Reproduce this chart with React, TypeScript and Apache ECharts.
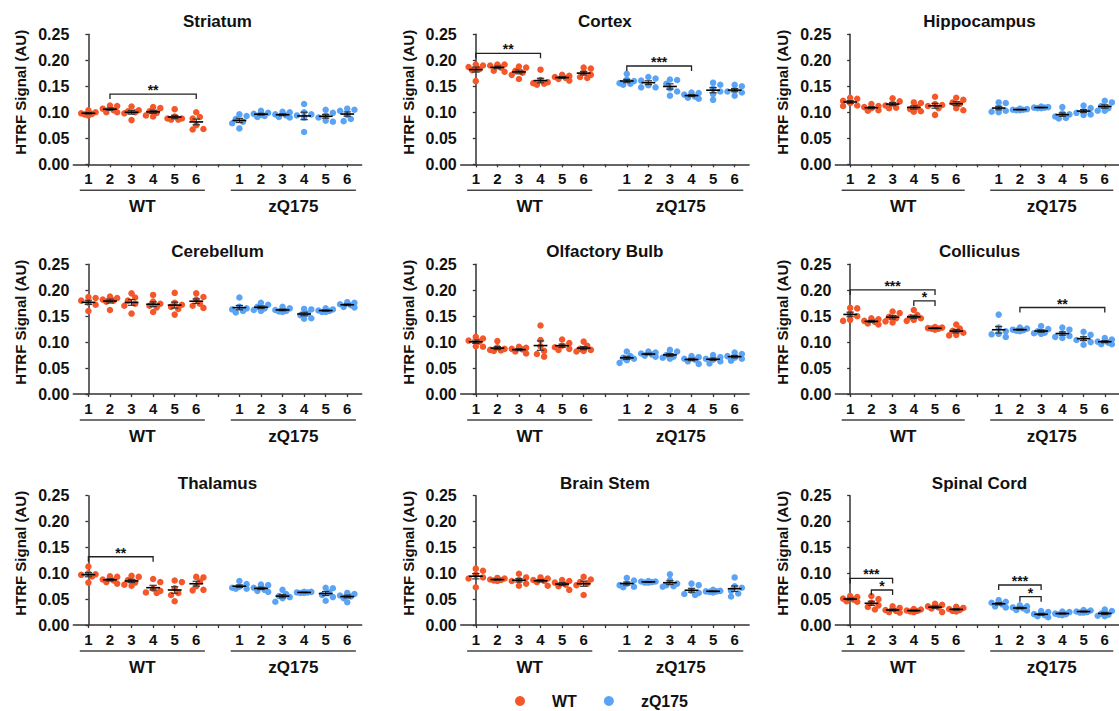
import React, { useEffect, useRef } from "react";
import * as echarts from "echarts";

const FONT = '"Liberation Sans", Arial, Helvetica, sans-serif';

const panelTitles = [
  "Striatum", "Cortex", "Hippocampus",
  "Cerebellum", "Olfactory Bulb", "Colliculus",
  "Thalamus", "Brain Stem", "Spinal Cord",
];
const groupLabels = ["WT", "zQ175"];
const doseLabels = ["1", "2", "3", "4", "5", "6"];
const yMin = 0;
const yMax = 0.25;
const yStep = 0.05;
const groupColors = ["#F4572A", "#5BA4F5"];
const yAxisName = "HTRF Signal (AU)";

// ---- dot values: each inner array = one dose group (6 animals) ----
const striatumWT = [
  [0.104, 0.100, 0.098, 0.096, 0.094, 0.097],
  [0.113, 0.112, 0.107, 0.104, 0.100, 0.100],
  [0.111, 0.104, 0.102, 0.100, 0.098, 0.085],
  [0.110, 0.108, 0.102, 0.099, 0.094, 0.092],
  [0.106, 0.092, 0.088, 0.086, 0.086, 0.088],
  [0.100, 0.091, 0.088, 0.075, 0.067, 0.068],
];
const striatumZQ = [
  [0.096, 0.093, 0.087, 0.082, 0.079, 0.069],
  [0.103, 0.099, 0.097, 0.095, 0.093, 0.091],
  [0.101, 0.100, 0.096, 0.094, 0.091, 0.090],
  [0.116, 0.100, 0.096, 0.094, 0.090, 0.062],
  [0.105, 0.099, 0.094, 0.090, 0.084, 0.082],
  [0.107, 0.105, 0.103, 0.095, 0.087, 0.083],
];
const cortexWT = [
  [0.192, 0.190, 0.187, 0.183, 0.181, 0.160],
  [0.192, 0.192, 0.190, 0.186, 0.180, 0.178],
  [0.188, 0.186, 0.180, 0.176, 0.172, 0.164],
  [0.182, 0.162, 0.158, 0.156, 0.155, 0.153],
  [0.172, 0.170, 0.168, 0.166, 0.164, 0.161],
  [0.186, 0.184, 0.176, 0.172, 0.168, 0.166],
];
const cortexZQ = [
  [0.174, 0.163, 0.160, 0.156, 0.155, 0.153],
  [0.168, 0.165, 0.161, 0.152, 0.148, 0.148],
  [0.163, 0.162, 0.155, 0.146, 0.140, 0.132],
  [0.138, 0.137, 0.134, 0.130, 0.128, 0.126],
  [0.157, 0.153, 0.146, 0.140, 0.135, 0.124],
  [0.153, 0.150, 0.143, 0.140, 0.138, 0.132],
];
const hippocampusWT = [
  [0.128, 0.126, 0.122, 0.118, 0.113, 0.112],
  [0.116, 0.112, 0.110, 0.108, 0.104, 0.103],
  [0.127, 0.121, 0.117, 0.113, 0.109, 0.108],
  [0.119, 0.118, 0.110, 0.106, 0.102, 0.101],
  [0.130, 0.116, 0.114, 0.112, 0.108, 0.095],
  [0.128, 0.124, 0.119, 0.116, 0.108, 0.104],
];
const hippocampusZQ = [
  [0.119, 0.118, 0.108, 0.103, 0.101, 0.100],
  [0.107, 0.106, 0.105, 0.105, 0.104, 0.104],
  [0.111, 0.110, 0.109, 0.109, 0.108, 0.108],
  [0.110, 0.098, 0.096, 0.092, 0.089, 0.088],
  [0.113, 0.108, 0.103, 0.099, 0.096, 0.095],
  [0.122, 0.119, 0.112, 0.108, 0.103, 0.103],
];
const cerebellumWT = [
  [0.187, 0.185, 0.180, 0.176, 0.172, 0.160],
  [0.188, 0.185, 0.182, 0.180, 0.178, 0.162],
  [0.194, 0.186, 0.180, 0.174, 0.170, 0.155],
  [0.191, 0.178, 0.174, 0.170, 0.167, 0.158],
  [0.195, 0.176, 0.172, 0.168, 0.164, 0.153],
  [0.194, 0.187, 0.182, 0.174, 0.170, 0.166],
];
const cerebellumZQ = [
  [0.186, 0.168, 0.165, 0.163, 0.160, 0.157],
  [0.176, 0.172, 0.168, 0.165, 0.162, 0.160],
  [0.168, 0.165, 0.162, 0.160, 0.159, 0.158],
  [0.164, 0.163, 0.155, 0.152, 0.146, 0.145],
  [0.165, 0.163, 0.161, 0.160, 0.158, 0.158],
  [0.177, 0.176, 0.173, 0.171, 0.168, 0.167],
];
const olfactoryWT = [
  [0.110, 0.107, 0.103, 0.101, 0.092, 0.091],
  [0.102, 0.090, 0.087, 0.085, 0.084, 0.083],
  [0.091, 0.089, 0.087, 0.086, 0.082, 0.078],
  [0.132, 0.104, 0.092, 0.083, 0.077, 0.072],
  [0.105, 0.098, 0.093, 0.090, 0.087, 0.085],
  [0.101, 0.093, 0.087, 0.085, 0.083, 0.082],
];
const olfactoryZQ = [
  [0.082, 0.073, 0.070, 0.068, 0.065, 0.060],
  [0.082, 0.080, 0.078, 0.076, 0.074, 0.072],
  [0.085, 0.082, 0.075, 0.072, 0.070, 0.068],
  [0.073, 0.071, 0.068, 0.066, 0.063, 0.058],
  [0.075, 0.071, 0.068, 0.066, 0.063, 0.059],
  [0.080, 0.077, 0.073, 0.070, 0.068, 0.064],
];
const colliculusWT = [
  [0.166, 0.165, 0.155, 0.150, 0.143, 0.141],
  [0.146, 0.144, 0.141, 0.139, 0.136, 0.134],
  [0.159, 0.156, 0.149, 0.146, 0.140, 0.138],
  [0.162, 0.152, 0.148, 0.146, 0.143, 0.141],
  [0.129, 0.128, 0.127, 0.126, 0.126, 0.124],
  [0.134, 0.126, 0.122, 0.118, 0.114, 0.113],
];
const colliculusZQ = [
  [0.153, 0.128, 0.121, 0.116, 0.115, 0.110],
  [0.128, 0.126, 0.124, 0.123, 0.122, 0.121],
  [0.131, 0.125, 0.121, 0.118, 0.117, 0.116],
  [0.128, 0.124, 0.117, 0.112, 0.110, 0.108],
  [0.120, 0.114, 0.107, 0.104, 0.100, 0.095],
  [0.108, 0.105, 0.101, 0.099, 0.096, 0.096],
];
const thalamusWT = [
  [0.113, 0.100, 0.098, 0.097, 0.094, 0.082],
  [0.094, 0.093, 0.088, 0.086, 0.083, 0.080],
  [0.095, 0.093, 0.087, 0.082, 0.078, 0.076],
  [0.089, 0.083, 0.070, 0.066, 0.063, 0.062],
  [0.086, 0.083, 0.071, 0.062, 0.058, 0.046],
  [0.093, 0.092, 0.084, 0.075, 0.068, 0.067],
];
const thalamusZQ = [
  [0.085, 0.079, 0.074, 0.072, 0.070, 0.070],
  [0.078, 0.077, 0.072, 0.068, 0.066, 0.064],
  [0.068, 0.060, 0.056, 0.054, 0.052, 0.045],
  [0.064, 0.064, 0.063, 0.063, 0.062, 0.062],
  [0.072, 0.071, 0.063, 0.058, 0.054, 0.047],
  [0.062, 0.060, 0.057, 0.055, 0.052, 0.044],
];
const brainStemWT = [
  [0.109, 0.105, 0.097, 0.092, 0.090, 0.073],
  [0.091, 0.090, 0.088, 0.087, 0.086, 0.085],
  [0.099, 0.092, 0.087, 0.085, 0.080, 0.076],
  [0.092, 0.090, 0.087, 0.085, 0.083, 0.076],
  [0.087, 0.085, 0.082, 0.078, 0.075, 0.068],
  [0.093, 0.088, 0.083, 0.080, 0.077, 0.058],
];
const brainStemZQ = [
  [0.091, 0.086, 0.080, 0.077, 0.074, 0.073],
  [0.085, 0.084, 0.084, 0.083, 0.082, 0.082],
  [0.098, 0.087, 0.080, 0.077, 0.075, 0.074],
  [0.080, 0.077, 0.066, 0.062, 0.060, 0.058],
  [0.068, 0.066, 0.065, 0.065, 0.064, 0.063],
  [0.092, 0.075, 0.072, 0.066, 0.061, 0.055],
];
const spinalCordWT = [
  [0.056, 0.054, 0.051, 0.049, 0.046, 0.045],
  [0.056, 0.050, 0.043, 0.038, 0.035, 0.030],
  [0.036, 0.033, 0.029, 0.027, 0.025, 0.024],
  [0.031, 0.030, 0.028, 0.027, 0.026, 0.025],
  [0.041, 0.039, 0.036, 0.034, 0.032, 0.025],
  [0.035, 0.033, 0.031, 0.029, 0.027, 0.026],
];
const spinalCordZQ = [
  [0.048, 0.045, 0.043, 0.040, 0.036, 0.034],
  [0.038, 0.036, 0.034, 0.032, 0.029, 0.028],
  [0.027, 0.025, 0.021, 0.019, 0.017, 0.015],
  [0.026, 0.025, 0.022, 0.021, 0.020, 0.019],
  [0.029, 0.028, 0.026, 0.025, 0.024, 0.024],
  [0.030, 0.027, 0.022, 0.020, 0.018, 0.017],
];

// ---- significance brackets: [group (0 WT, 1 zQ175), fromDose, toDose, yValue, stars] ----
const striatumBrackets = [[0, 2, 6, 0.135, 2]];
const cortexBrackets = [[0, 1, 4, 0.2135, 2], [1, 1, 4, 0.189, 3]];
const hippocampusBrackets: number[][] = [];
const cerebellumBrackets: number[][] = [];
const olfactoryBrackets: number[][] = [];
const colliculusBrackets = [[0, 1, 5, 0.2006, 3], [0, 4, 5, 0.1795, 1], [1, 2, 6, 0.1667, 2]];
const thalamusBrackets = [[0, 1, 4, 0.132, 2]];
const brainStemBrackets: number[][] = [];
const spinalCordBrackets = [[0, 1, 3, 0.09, 3], [0, 2, 3, 0.0677, 1], [1, 1, 3, 0.0773, 3], [1, 2, 3, 0.0548, 1]];

const panelWT = [striatumWT, cortexWT, hippocampusWT, cerebellumWT, olfactoryWT, colliculusWT, thalamusWT, brainStemWT, spinalCordWT];
const panelZQ = [striatumZQ, cortexZQ, hippocampusZQ, cerebellumZQ, olfactoryZQ, colliculusZQ, thalamusZQ, brainStemZQ, spinalCordZQ];
const panelBrackets = [striatumBrackets, cortexBrackets, hippocampusBrackets, cerebellumBrackets, olfactoryBrackets, colliculusBrackets, thalamusBrackets, brainStemBrackets, spinalCordBrackets];

// ---- layout ----
const colLeft = [73.3, 460.7, 835.3];
const rowTop = [34.3, 264.3, 495.7];
const rowHeight = [130, 129.7, 129.3];
const plotWidth = 288.4;
const xMin = -0.7;
const xMax = 12.67;
const groupGap = 7; // WT doses at 0..5, zQ175 doses at 7..12

const xPos = (g: number, d: number) => g * groupGap + d;

function swarmOffsets(vals: number[], pxPerY: number, pxPerX: number): number[] {
  const dMin = 5.2;
  const step = 3.6;
  const cands = [0, 1, -1, 2, -2];
  const order = vals.map((_, i) => i).sort((a, b) => vals[b] - vals[a]);
  const placed: { x: number; y: number }[] = [];
  const out = new Array(vals.length).fill(0);
  for (const i of order) {
    const y = vals[i] * pxPerY;
    let best = 0;
    let bestD = -1;
    for (const k of cands) {
      const x = k * step;
      let md = Infinity;
      for (const p of placed) md = Math.min(md, Math.hypot(p.x - x, p.y - y));
      if (md >= dMin) { best = x; bestD = Infinity; break; }
      if (md > bestD) { bestD = md; best = x; }
    }
    placed.push({ x: best, y });
    out[i] = best / pxPerX;
  }
  return out;
}

function meanSem(v: number[]) {
  const n = v.length;
  const m = v.reduce((a, b) => a + b, 0) / n;
  const sd = Math.sqrt(v.reduce((a, b) => a + (b - m) * (b - m), 0) / (n - 1));
  return [m, sd / Math.sqrt(n)];
}

function buildOption() {
  const grid: any[] = [];
  const xAxis: any[] = [];
  const yAxis: any[] = [];
  const title: any[] = [];
  const series: any[] = [];
  const pxPerX = plotWidth / (xMax - xMin);

  for (let i = 0; i < 9; i++) {
    const r = Math.floor(i / 3);
    const c = i % 3;
    const pxPerY = rowHeight[r] / (yMax - yMin);
    grid.push({ left: colLeft[c], top: rowTop[r], width: plotWidth, height: rowHeight[r] });
    title.push({
      text: panelTitles[i],
      left: colLeft[c] + plotWidth / 2,
      top: rowTop[r] - 21,
      textAlign: "center",
      padding: 0,
      textStyle: { fontFamily: FONT, fontSize: 17, fontWeight: "bold", color: "#111" },
    });
    const tickVals: number[] = [];
    for (let k = 0; k <= 12; k++) tickVals.push(k);
    const labelVals: number[] = [];
    for (let g = 0; g < 2; g++) for (let d = 0; d < 6; d++) labelVals.push(xPos(g, d));
    xAxis.push({
      gridIndex: i,
      type: "value",
      min: xMin,
      max: xMax,
      axisLine: { show: true, onZero: false, lineStyle: { color: "#333", width: 1.5 } },
      axisTick: { show: true, customValues: tickVals, length: 3, lineStyle: { color: "#333", width: 1.3 } },
      axisLabel: {
        customValues: labelVals,
        formatter: (v: number) => doseLabels[Math.round(v) % groupGap] ?? "",
        fontFamily: FONT,
        fontSize: 15,
        fontWeight: "bold",
        color: "#111",
        margin: 7,
      },
      splitLine: { show: false },
    });
    yAxis.push({
      gridIndex: i,
      type: "value",
      min: yMin,
      max: yMax,
      interval: yStep,
      name: yAxisName,
      nameLocation: "middle",
      nameGap: 45,
      nameTextStyle: { fontFamily: FONT, fontSize: 15, fontWeight: "bold", color: "#111", padding: [0, 0, 0, 14] },
      axisLine: { show: true, lineStyle: { color: "#333", width: 1.5 } },
      axisTick: { show: true, length: 3, lineStyle: { color: "#333", width: 1.3 } },
      axisLabel: {
        formatter: (v: number) => v.toFixed(2),
        fontFamily: FONT,
        fontSize: 16,
        fontWeight: "bold",
        color: "#111",
        margin: 4,
      },
      splitLine: { show: false },
    });

    const groups = [panelWT[i], panelZQ[i]];
    const stats: number[][] = [];
    groups.forEach((gd, g) => {
      const pts: number[][] = [];
      gd.forEach((vals, d) => {
        const offs = swarmOffsets(vals, pxPerY, pxPerX);
        vals.forEach((v, k) => pts.push([xPos(g, d) + offs[k], v]));
        const [m, s] = meanSem(vals);
        stats.push([xPos(g, d), m, s]);
      });
      series.push({
        name: groupLabels[g],
        type: "scatter",
        xAxisIndex: i,
        yAxisIndex: i,
        symbol: "circle",
        symbolSize: 6.5,
        itemStyle: { color: groupColors[g], opacity: 1 },
        data: pts,
        z: 2,
        silent: true,
      });
    });

    series.push({
      type: "custom",
      xAxisIndex: i,
      yAxisIndex: i,
      z: 4,
      silent: true,
      data: stats,
      renderItem: (params: any, api: any) => {
        const x = api.value(0);
        const m = api.value(1);
        const s = api.value(2);
        const c0 = api.coord([x, m]);
        const top = api.coord([x, m + s]);
        const bot = api.coord([x, m - s]);
        const u = api.size([1, 0])[0];
        const hw = 0.32 * u;
        const cw = 0.17 * u;
        return {
          type: "group",
          children: [
            { type: "line", shape: { x1: c0[0], y1: top[1], x2: c0[0], y2: bot[1] }, style: { stroke: "#333", lineWidth: 1.2 } },
            { type: "line", shape: { x1: c0[0] - cw, y1: top[1], x2: c0[0] + cw, y2: top[1] }, style: { stroke: "#333", lineWidth: 1.2 } },
            { type: "line", shape: { x1: c0[0] - cw, y1: bot[1], x2: c0[0] + cw, y2: bot[1] }, style: { stroke: "#333", lineWidth: 1.2 } },
            { type: "line", shape: { x1: c0[0] - hw, y1: c0[1], x2: c0[0] + hw, y2: c0[1] }, style: { stroke: "#000", lineWidth: 1.6 } },
          ],
        };
      },
    });

    const br = panelBrackets[i].map((b) => [xPos(b[0], b[1] - 1), xPos(b[0], b[2] - 1), b[3], b[4]]);
    if (br.length) {
      series.push({
        type: "custom",
        xAxisIndex: i,
        yAxisIndex: i,
        z: 5,
        silent: true,
        data: br,
        renderItem: (params: any, api: any) => {
          const p1 = api.coord([api.value(0), api.value(2)]);
          const p2 = api.coord([api.value(1), api.value(2)]);
          const stars = "*".repeat(api.value(3));
          return {
            type: "group",
            children: [
              {
                type: "polyline",
                shape: { points: [[p1[0], p1[1] + 5], [p1[0], p1[1]], [p2[0], p2[1]], [p2[0], p2[1] + 5]] },
                style: { stroke: "#222", lineWidth: 1.3, fill: null },
              },
              {
                type: "text",
                x: (p1[0] + p2[0]) / 2,
                y: p1[1] - 4,
                style: {
                  text: stars,
                  font: `bold 14px ${FONT}`,
                  fill: "#111",
                  align: "center",
                  verticalAlign: "middle",
                  textAlign: "center",
                  textVerticalAlign: "middle",
                },
              },
            ],
          };
        },
      });
    }

    series.push({
      type: "custom",
      xAxisIndex: i,
      yAxisIndex: i,
      z: 5,
      silent: true,
      clip: false,
      data: [[xPos(0, 0) - 0.4, xPos(0, 5) + 0.4, 0], [xPos(1, 0) - 0.4, xPos(1, 5) + 0.4, 1]],
      renderItem: (params: any, api: any) => {
        const p1 = api.coord([api.value(0), yMin]);
        const p2 = api.coord([api.value(1), yMin]);
        const label = groupLabels[api.value(2)];
        return {
          type: "group",
          children: [
            { type: "line", shape: { x1: p1[0], y1: p1[1] + 26, x2: p2[0], y2: p1[1] + 26 }, style: { stroke: "#444", lineWidth: 1.6 } },
            {
              type: "text",
              x: (p1[0] + p2[0]) / 2,
              y: p1[1] + 42,
              style: {
                text: label,
                font: `bold 17px ${FONT}`,
                fill: "#111",
                align: "center",
                verticalAlign: "middle",
                textAlign: "center",
                textVerticalAlign: "middle",
              },
            },
          ],
        };
      },
    });
  }

  return {
    animation: false,
    backgroundColor: "#fff",
    title,
    grid,
    xAxis,
    yAxis,
    legend: {
      data: groupLabels,
      left: 515,
      top: 693,
      itemWidth: 10,
      itemHeight: 10,
      itemGap: 27,
      icon: "circle",
      padding: 0,
      textStyle: { fontFamily: FONT, fontSize: 16, fontWeight: "bold", color: "#111", padding: [0, 0, 0, 22] },
    },
    series,
  };
}

export default function App() {
  const ref = useRef<HTMLDivElement>(null);
  useEffect(() => {
    document.body.style.margin = "0";
    if (!ref.current) return;
    const chart = echarts.init(ref.current, undefined, { renderer: "svg" });
    chart.setOption(buildOption() as any);
    return () => chart.dispose();
  }, []);
  return <div ref={ref} style={{ width: 1119, height: 711 }} />;
}
